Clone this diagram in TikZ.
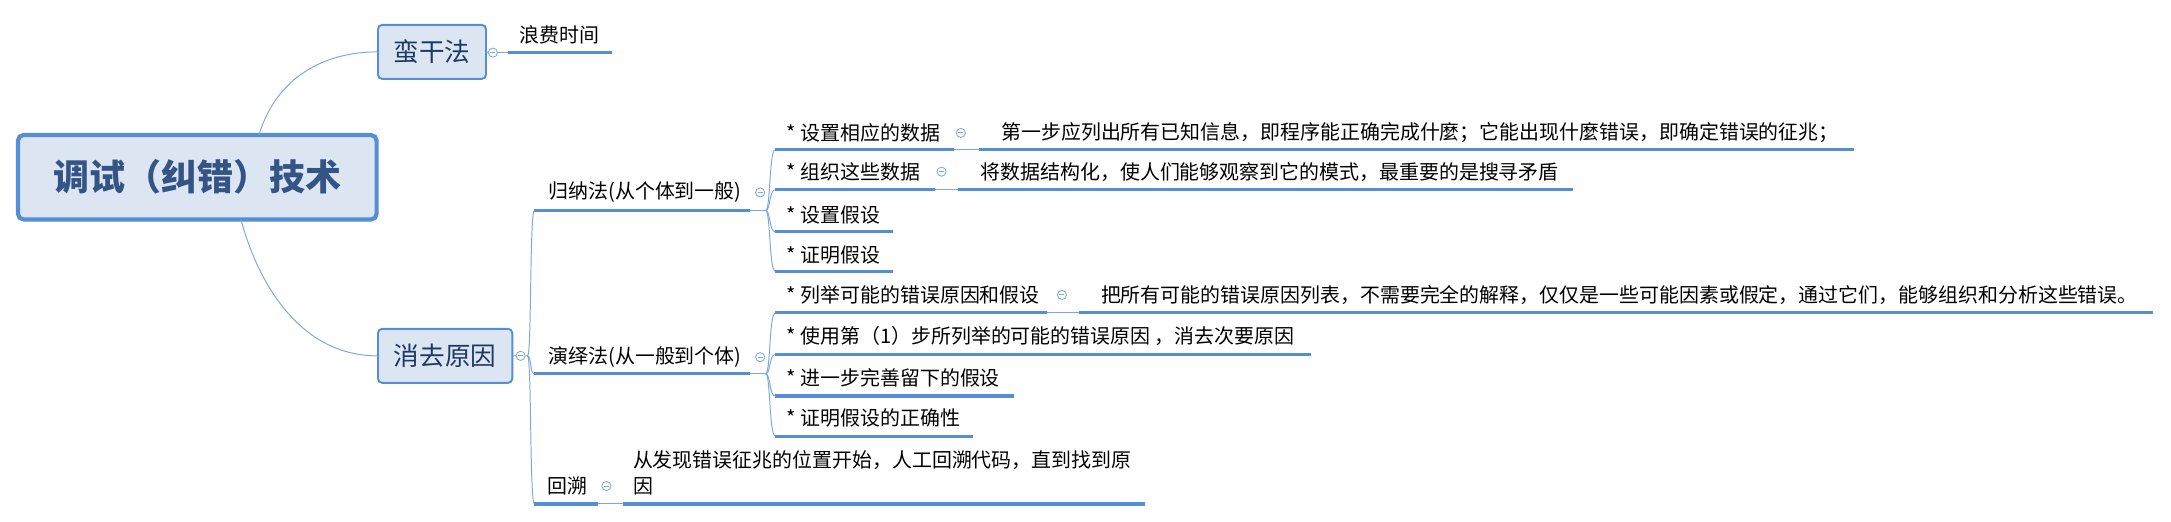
\documentclass[tikz,border=0pt]{standalone}
\usepackage{fontspec}
\setmainfont{Noto Sans CJK SC}
\definecolor{boxfill}{RGB}{220,230,242}
\definecolor{boxline}{RGB}{85,142,213}
\definecolor{uline}{RGB}{85,142,213}
\definecolor{conn}{RGB}{125,168,222}
\definecolor{roottext}{RGB}{52,84,134}
\definecolor{boxtext}{RGB}{31,56,100}
\begin{document}
\begin{tikzpicture}[x=1pt,y=-1pt,
  leaf/.style={anchor=west,inner sep=0pt,font=\fontsize{14.4}{19}\selectfont,text=black},
  ul/.style={draw=uline,line width=2.2pt},
  con/.style={draw=conn,line width=0.7pt},
  tog/.style={circle,draw=conn,fill=white,line width=0.6pt,minimum size=6.6pt,inner sep=0pt,
    path picture={\draw[conn,line width=0.6pt] ([xshift=-1.8pt]path picture bounding box.center) -- ([xshift=1.8pt]path picture bounding box.center);}},
  rootbox/.style={draw=boxline,fill=boxfill,line width=3pt,rounded corners=4pt,minimum width=259pt,minimum height=61pt,inner sep=0pt,font=\fontsize{26}{30}\selectfont\bfseries,text=roottext},
  topicbox/.style={draw=boxline,fill=boxfill,line width=1.4pt,rounded corners=3pt,minimum height=39pt,inner sep=0pt,font=\fontsize{18.5}{22}\selectfont,text=boxtext},
  ]
\useasboundingbox (0,0) rectangle (1568,376.3);

% main boxes
\node[rootbox] (root) at (142.5,128) {调试（纠错）技术};
\node[topicbox,minimum width=78pt] (mg) at (312,37.5) {蛮干法};
\node[topicbox,minimum width=97pt] (xq) at (321.5,257) {消去原因};

\coordinate (rt) at (187,97.5);
\coordinate (rb) at (174,158.5);
\draw[con] (rt) .. controls (200,55) and (235,37.5) .. (mg.west);
\draw[con] (rb) .. controls (188,210) and (220,257) .. (xq.west);

% 蛮干法 -> 浪费时间
\node[tog] (t0) at (356,38) {};
\draw[con] (mg.east) -- (t0.west);
\coordinate (lf0) at (367,38);
\coordinate (lf1) at (442,38);
\draw[con] (t0.east) -- (lf0);
\draw[ul] (lf0) -- (lf1);
\node[leaf] (lf) at (375,25) {浪费时间};

% 消去原因 spine
\node[tog] (t1) at (376,257) {};
\draw[con] (xq.east) -- (t1.west);
\coordinate (s1) at (381,257);
\draw[con] (t1.east) -- (s1);
\coordinate (g0) at (386,152); \coordinate (g1) at (542,152);
\coordinate (y0) at (386,270); \coordinate (y1) at (542,270);
\coordinate (h0) at (386,364); \coordinate (h1) at (432,364);
\draw[con] (s1) .. controls (384,257) and (382.5,152) .. (g0);
\draw[con] (s1) .. controls (384,257) and (382.5,270) .. (y0);
\draw[con] (s1) .. controls (384,257) and (382.5,364) .. (h0);
\draw[ul] (g0) -- (g1);
\draw[ul] (y0) -- (y1);
\draw[ul] (h0) -- (h1);

% 归纳法
\node[leaf] (gn) at (396,139) {归纳法(从个体到一般)};
\node[tog] (t2) at (549,139) {};
\coordinate (g2) at (553,152);
\draw[con] (g1) -- (g2);
\foreach \yy/\xe [count=\i] in {108/689,137/675,167.5/645,196/645}{
  \coordinate (a\i s) at (560,\yy);
  \coordinate (a\i e) at (\xe,\yy);
  \draw[con] (g2) .. controls (556.5,152) and (555.5,\yy) .. (a\i s);
  \draw[ul] (a\i s) -- (a\i e);
}
\node[leaf] (a1) at (568,96) {* 设置相应的数据};
\node[leaf] (a2) at (568,124) {* 组织这些数据};
\node[leaf] (a3) at (568,155) {* 设置假设};
\node[leaf] (a4) at (568,184) {* 证明假设};

\node[tog] (ta1) at (694,96) {};
\coordinate (a1l) at (707,108); \coordinate (a1r) at (1339,108);
\draw[con] (a1e) -- (a1l);
\draw[ul] (a1l) -- (a1r);
\node[leaf] (a1d) at (723,96) {第一步应列出所有已知信息，即程序能正确完成什麼；它能出现什麼错误，即确定错误的征兆；};

\node[tog] (ta2) at (680,124) {};
\coordinate (a2l) at (692,137); \coordinate (a2r) at (1136,137);
\draw[con] (a2e) -- (a2l);
\draw[ul] (a2l) -- (a2r);
\node[leaf] (a2d) at (708,124) {将数据结构化，使人们能够观察到它的模式，最重要的是搜寻矛盾};

% 演绎法
\node[leaf] (yy) at (396,258) {演绎法(从一般到个体)};
\node[tog] (t3) at (549,258) {};
\coordinate (y2) at (553,270);
\draw[con] (y1) -- (y2);
\foreach \yy/\xe [count=\i] in {226/756,256/947,286/732,315/703}{
  \coordinate (b\i s) at (560,\yy);
  \coordinate (b\i e) at (\xe,\yy);
  \draw[con] (y2) .. controls (556.5,270) and (555.5,\yy) .. (b\i s);
  \draw[ul] (b\i s) -- (b\i e);
}
\node[leaf] (b1) at (568,213) {* 列举可能的错误原因和假设};
\node[leaf] (b2) at (568,243) {* 使用第（1）步所列举的可能的错误原因 ，消去次要原因};
\node[leaf] (b3) at (568,273) {* 进一步完善留下的假设};
\node[leaf] (b4) at (568,302) {* 证明假设的正确性};

\node[tog] (tb1) at (767,213) {};
\coordinate (b1l) at (779,226); \coordinate (b1r) at (1555,226);
\draw[con] (b1e) -- (b1l);
\draw[ul] (b1l) -- (b1r);
\node[leaf] (b1d) at (795,213) {把所有可能的错误原因列表，不需要完全的解释，仅仅是一些可能因素或假定，通过它们，能够组织和分析这些错误。};

% 回溯
\node[leaf] (hs) at (395,351) {回溯};
\node[tog] (t4) at (438,351) {};
\coordinate (h2) at (450,364); \coordinate (h3) at (827,364);
\draw[con] (h1) -- (h2);
\draw[ul] (h2) -- (h3);
\node[leaf,align=left] (hd) at (457,341.5) {从发现错误征兆的位置开始，人工回溯代码，直到找到原\\因};
\end{tikzpicture}
\end{document}
